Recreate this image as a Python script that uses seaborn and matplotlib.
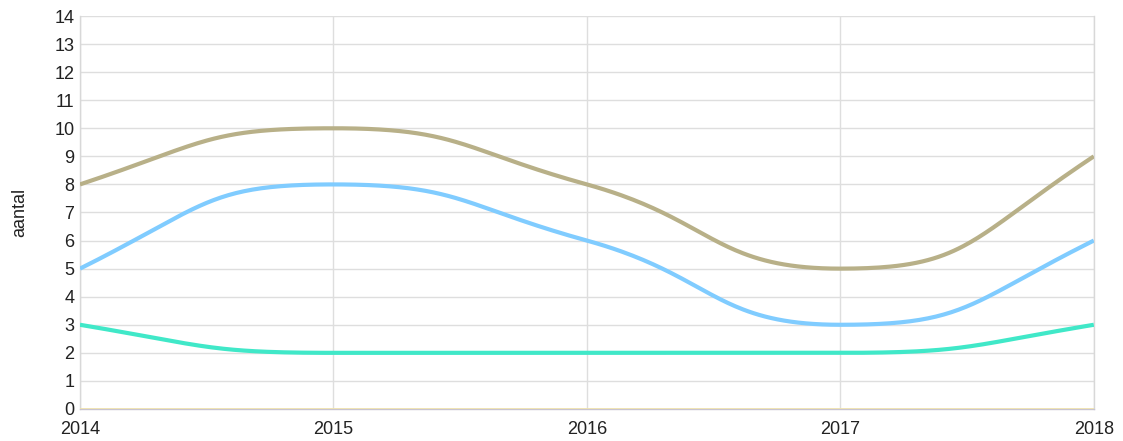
import numpy as np
import pandas as pd
import matplotlib
matplotlib.use("Agg")
import matplotlib.pyplot as plt
import seaborn as sns

years = [2014, 2015, 2016, 2017, 2018]
series_a = [8, 10, 8, 5, 9]
series_b = [5, 8, 6, 3, 6]
series_c = [3, 2, 2, 2, 3]
series_d = [0, 0, 0, 0, 0]
colors = ["#b8b088", "#80ccff", "#40e8c8", "#f0e2a8"]
widths = [3.0, 3.0, 3.0, 1.2]
y_label = "aantal"


def smooth_curve(x, y, n=80):
    """Piecewise cubic Bezier through the points. Handles reach half-way
    along each segment; they are flat at local extremes and take the
    centred slope elsewhere. End handles lean 3/4 of the first/last rise."""
    x = np.asarray(x, float)
    y = np.asarray(y, float)
    h = np.diff(x)
    slope = np.zeros_like(y)
    for i in range(1, len(y) - 1):
        a, b = y[i] - y[i - 1], y[i + 1] - y[i]
        if a * b > 0:
            slope[i] = (y[i + 1] - y[i - 1]) / (x[i + 1] - x[i - 1])
    xs, ys = [], []
    last = len(x) - 2
    for i in range(len(x) - 1):
        p0 = np.array([x[i], y[i]])
        p3 = np.array([x[i + 1], y[i + 1]])
        rise = y[i + 1] - y[i]
        if i == 0:
            c1 = p0 + np.array([h[i] / 2, 0.75 * rise])
        else:
            c1 = p0 + np.array([h[i] / 2, slope[i] * h[i] / 2])
        if i == last:
            c2 = p3 - np.array([h[i] / 2, 0.75 * rise])
        else:
            c2 = p3 - np.array([h[i] / 2, slope[i + 1] * h[i] / 2])
        t = np.linspace(0, 1, n, endpoint=(i == last))[:, None]
        pts = ((1 - t) ** 3) * p0 + 3 * ((1 - t) ** 2) * t * c1 \
            + 3 * (1 - t) * t ** 2 * c2 + t ** 3 * p3
        xs.append(pts[:, 0])
        ys.append(pts[:, 1])
    return np.concatenate(xs), np.concatenate(ys)


sns.set_theme(style="white")
plt.rcParams["font.family"] = ["Liberation Sans", "DejaVu Sans"]

fig = plt.figure(figsize=(11.23, 4.41), dpi=100)
ax = fig.add_axes([0.0712, 0.0726, 0.9028, 0.8911])

names = ["d", "c", "b", "a"]
values = {"a": series_a, "b": series_b, "c": series_c, "d": series_d}
palette = {"a": colors[0], "b": colors[1], "c": colors[2], "d": colors[3]}
lw = {"a": widths[0], "b": widths[1], "c": widths[2], "d": widths[3]}

frames = []
for name in names:
    xs, ys = smooth_curve(years, values[name])
    frames.append(pd.DataFrame({"jaar": xs, "aantal": ys, "reeks": name}))
df = pd.concat(frames, ignore_index=True)

for name in names:
    sns.lineplot(data=df[df["reeks"] == name], x="jaar", y="aantal", color=palette[name],
                 linewidth=lw[name], ax=ax, sort=False, estimator=None, zorder=3,
                 solid_capstyle="butt")

ax.set_xlim(years[0], years[-1])
ax.set_ylim(0, 14)
ax.set_xticks(years)
ax.set_xticklabels([str(y) for y in years])
ax.set_yticks(range(0, 15))
ax.grid(True, color="#dedede", linewidth=1.0, zorder=0)
ax.set_axisbelow(True)

for side in ["left", "right"]:
    ax.spines[side].set_color("#d8d8d8")
    ax.spines[side].set_linewidth(1.0)
ax.spines["top"].set_visible(False)
ax.spines["bottom"].set_color("#c8c4d0")
ax.spines["bottom"].set_linewidth(1.0)

ax.tick_params(axis="both", length=0, labelsize=13, colors="#222222")
ax.tick_params(axis="x", pad=9)
ax.tick_params(axis="y", pad=4)
ax.set_xlabel("")
ax.set_ylabel(y_label, fontsize=13, color="#222222", labelpad=19)

fig.savefig("out.png", dpi=100)
